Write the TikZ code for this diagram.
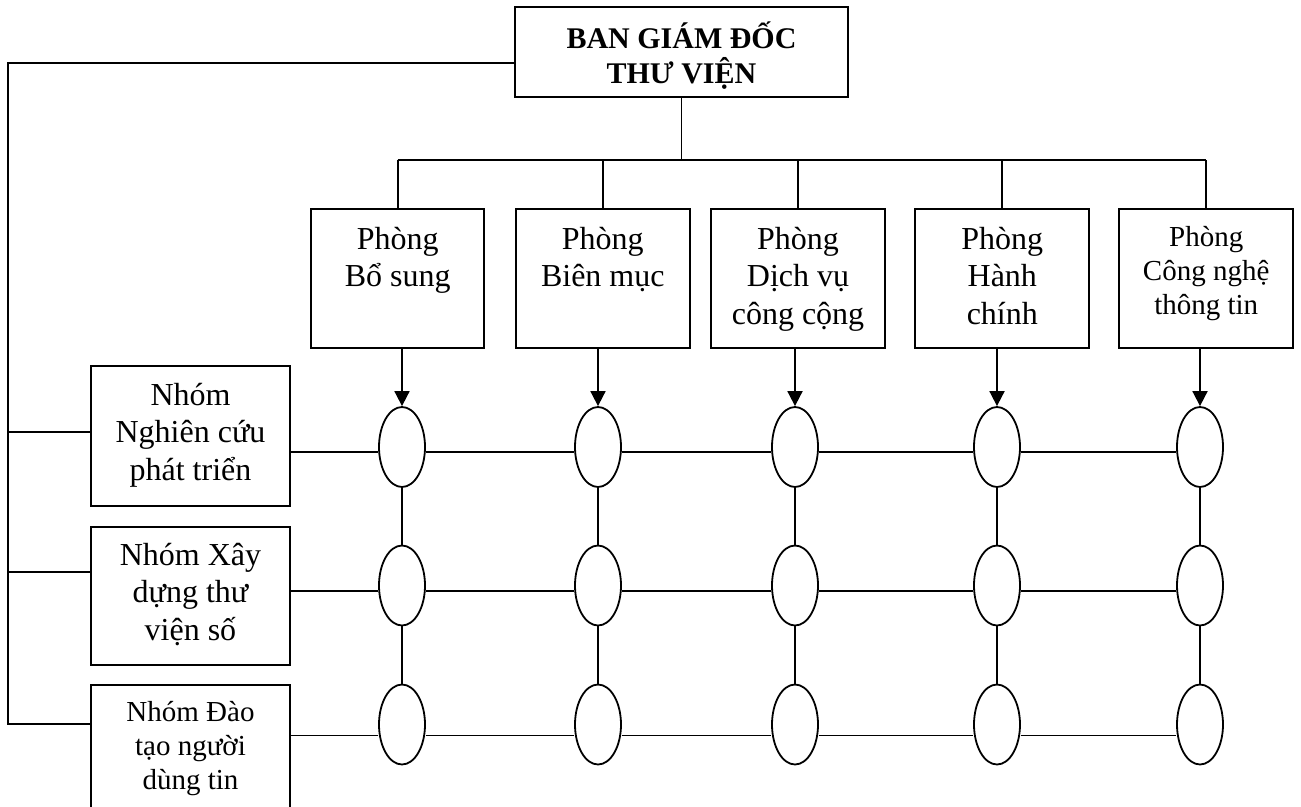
\documentclass[tikz,border=0pt]{standalone}
\usepackage{fontspec}
\setmainfont{Liberation Serif}
\usetikzlibrary{shapes.geometric,arrows.meta}
% fixed-size box whose lines hang from the top: height, width, first-baseline drop, text
\newcommand{\celltext}[4]{\parbox[c][#1][t]{#2}{\centering\rule{0pt}{#3}#4}}
\begin{document}
\begin{tikzpicture}[x=1pt,y=-1pt,
  frame/.style={draw,line width=1.8pt,inner sep=0pt,fill=white},
  big/.style={font=\fontsize{32}{37.5}\selectfont},
  small/.style={font=\fontsize{29}{34}\selectfont},
  head/.style={font=\fontsize{30}{35}\selectfont\bfseries},
  oval/.style={ellipse,draw,line width=1.8pt,fill=white,minimum width=46pt,minimum height=80pt,inner sep=0pt},
  wire/.style={line width=1.8pt},
  feed/.style={wire,-{Triangle[length=15pt,width=15pt]}}]
\fill[white] (0,0) rectangle (1301,806);
\clip (0,0) rectangle (1301,806);

% board of directors
\node[frame,head] (ban) at (681.5,52) {\celltext{89.5pt}{333pt}{41pt}{BAN GIÁM ĐỐC\\THƯ VIỆN}};

% departments
\node[frame,big] (d1) at (397.7,278.5) {\celltext{138.5pt}{173pt}{40pt}{Phòng\\Bổ sung}};
\node[frame,big] (d2) at (602.8,278.5) {\celltext{138.5pt}{174pt}{40pt}{Phòng\\Biên mục}};
\node[frame,big] (d3) at (798,278.5) {\celltext{138.5pt}{174pt}{40pt}{Phòng\\Dịch vụ\\công cộng}};
\node[frame,big] (d4) at (1002.3,278.5) {\celltext{138.5pt}{174pt}{40pt}{Phòng\\Hành\\chính}};
\node[frame,small] (d5) at (1206.2,278.5) {\celltext{138.5pt}{174pt}{37.5pt}{Phòng\\Công nghệ\\thông tin}};

% project groups
\node[frame,big] (g1) at (190.5,436) {\celltext{140pt}{199pt}{39pt}{Nhóm\\Nghiên cứu\\phát triển}};
\node[frame,big] (g2) at (190.5,596) {\celltext{138pt}{199pt}{38pt}{Nhóm Xây\\dựng thư\\viện số}};
\node[frame,small] (g3) at (190.5,757.5) {\celltext{145pt}{199pt}{36.7pt}{Nhóm Đào\\tạo người\\dùng tin}};

% matrix cells
\foreach \c/\x in {1/402,2/598,3/795,4/997,5/1200}
  \foreach \r/\y in {1/447,2/585.5,3/724.5}
    \node[oval] (e\r\c) at (\x,\y) {};

% director to departments
\coordinate (bus) at (682,160);
\draw[wire] (ban.south) -- (ban.south |- bus);
\draw[wire] (d1.north |- bus) -- (d5.north |- bus);
\foreach \c in {1,...,5} \draw[wire] (d\c.north |- bus) -- (d\c.north);

% director to groups
\coordinate (trunktop) at (8,63);
\coordinate (trunkbot) at (8,724);
\coordinate (tap1) at (8,432);
\coordinate (tap2) at (8,572);
\draw[wire] (ban.west |- trunktop) -- (trunktop) -- (trunkbot) -- (g3.west |- trunkbot);
\draw[wire] (tap1) -- (g1.west |- tap1);
\draw[wire] (tap2) -- (g2.west |- tap2);

% department arrows into the first row
\foreach \c in {1,...,5} \draw[feed] (d\c.south -| e1\c.north) -- (e1\c.north);

% vertical links within each column
\foreach \c in {1,...,5} {
  \draw[wire] (e1\c.south) -- (e2\c.north);
  \draw[wire] (e2\c.south) -- (e3\c.north);
}

% horizontal rows from each group
\foreach \r/\s in {1/-5,2/-5.5,3/-11} {
  \coordinate (row\r) at ([yshift=\s pt]e\r1.west);
  \draw[wire] (g\r.east |- row\r) -- (row\r);
  \draw[wire] ([yshift=\s pt]e\r1.east) -- ([yshift=\s pt]e\r2.west);
  \draw[wire] ([yshift=\s pt]e\r2.east) -- ([yshift=\s pt]e\r3.west);
  \draw[wire] ([yshift=\s pt]e\r3.east) -- ([yshift=\s pt]e\r4.west);
  \draw[wire] ([yshift=\s pt]e\r4.east) -- ([yshift=\s pt]e\r5.west);
}
\end{tikzpicture}
\end{document}
